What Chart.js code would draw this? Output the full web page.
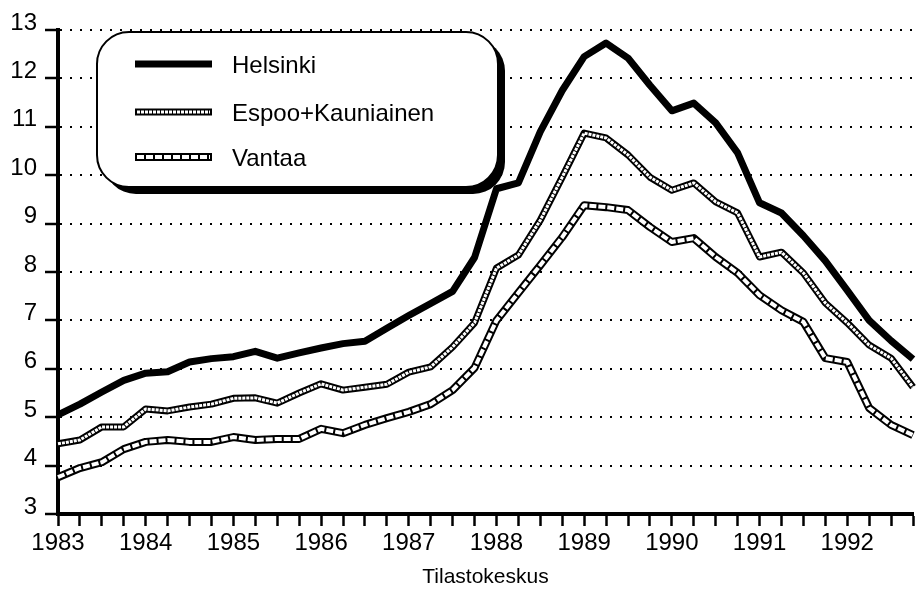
<!DOCTYPE html>
<html>
<head>
<meta charset="utf-8">
<script src="https://cdn.jsdelivr.net/npm/chart.js@4.4.1/dist/chart.umd.min.js"></script>
<style>
  html, body { margin: 0; padding: 0; background: #fff; }
  #wrap { width: 916px; height: 592px; }
</style>
</head>
<body>
<div id="wrap"><canvas id="chart"></canvas></div>
<script>
// vuodet ja neljännekset
const years = [1983, 1984, 1985, 1986, 1987, 1988, 1989, 1990, 1991, 1992];
const quarters = years.flatMap(y => [y + ' I', y + ' II', y + ' III', y + ' IV']);

// sarjat, neljännesvuosittain
const helsinki = [
  5.05, 5.27, 5.52, 5.76,
  5.91, 5.94, 6.14, 6.21,
  6.25, 6.36, 6.22, 6.33,
  6.43, 6.52, 6.57, 6.84,
  7.10, 7.35, 7.60, 8.30,
  9.72, 9.84, 10.90, 11.75,
  12.45, 12.73, 12.42, 11.86,
  11.33, 11.49, 11.08, 10.46,
  9.43, 9.22, 8.75, 8.23,
  7.62, 7.00, 6.58, 6.20
];
const espoo = [
  4.45, 4.53, 4.80, 4.80,
  5.17, 5.13, 5.21, 5.27,
  5.39, 5.40, 5.29, 5.50,
  5.69, 5.56, 5.62, 5.68,
  5.93, 6.04, 6.45, 6.95,
  8.08, 8.35, 9.07, 9.96,
  10.87, 10.77, 10.42, 9.96,
  9.69, 9.84, 9.45, 9.22,
  8.31, 8.41, 7.98, 7.36,
  6.95, 6.49, 6.22, 5.62
];
const vantaa = [
  3.76, 3.95, 4.07, 4.34,
  4.49, 4.53, 4.49, 4.49,
  4.59, 4.53, 4.55, 4.55,
  4.76, 4.67, 4.84, 4.98,
  5.11, 5.27, 5.56, 6.02,
  7.00, 7.57, 8.14, 8.72,
  9.38, 9.34, 9.28, 8.93,
  8.62, 8.70, 8.31, 7.98,
  7.52, 7.21, 6.97, 6.22,
  6.14, 5.19, 4.84, 4.63
];
const seriesNames = ['Helsinki', 'Espoo+Kauniainen', 'Vantaa'];

const fontFamily = '"Liberation Sans", Arial, Helvetica, sans-serif';

// viivatyylit: musta reuna + valkoinen sisäviiva
const lineStyles = [
  { outer: 7, inner: 0, dash: [] },
  { outer: 7, inner: 3, dash: [3, 1] },
  { outer: 8, inner: 4, dash: [7, 2] }
];

function strokeSample(ctx, style, x1, x2, y) {
  ctx.lineCap = 'butt';
  ctx.beginPath();
  ctx.moveTo(x1, y); ctx.lineTo(x2, y);
  ctx.strokeStyle = '#000';
  ctx.lineWidth = style.outer;
  ctx.setLineDash([]);
  ctx.stroke();
  if (style.inner) {
    ctx.beginPath();
    ctx.moveTo(x1 + 2, y); ctx.lineTo(x2 - 2, y);
    ctx.strokeStyle = '#fff';
    ctx.lineWidth = style.inner;
    ctx.setLineDash(style.dash);
    ctx.stroke();
  }
}

// pyöristetty selitelaatikko varjolla
const boxLegend = {
  id: 'boxLegend',
  beforeDatasetsDraw(chart) {
    const ctx = chart.ctx;
    ctx.save();
    ctx.fillStyle = '#000';
    ctx.beginPath();
    ctx.roundRect(104, 39, 401, 155, 32);
    ctx.fill();
    ctx.fillStyle = '#fff';
    ctx.strokeStyle = '#000';
    ctx.lineWidth = 2;
    ctx.beginPath();
    ctx.roundRect(97, 32, 401, 155, 32);
    ctx.fill();
    ctx.stroke();

    const rows = [64, 112, 157];
    ctx.font = '24px ' + fontFamily;
    ctx.textBaseline = 'middle';
    seriesNames.forEach((name, i) => {
      strokeSample(ctx, lineStyles[i], 135, 212, rows[i]);
      ctx.setLineDash([]);
      ctx.fillStyle = '#000';
      ctx.fillText(name, 232, rows[i] + 2);
    });
    ctx.restore();
  }
};

// order: pienempi piirretään päälle
function outerSet(label, data, style) {
  return {
    label: label,
    data: data,
    order: 2,
    borderColor: '#000',
    borderWidth: style.outer,
    pointRadius: 0,
    tension: 0,
    borderJoinStyle: 'round',
    fill: false
  };
}

function innerSet(label, data, style) {
  return {
    label: label,
    data: data,
    order: 1,
    borderColor: '#fff',
    borderWidth: style.inner,
    borderDash: style.dash,
    pointRadius: 0,
    tension: 0,
    borderJoinStyle: 'round',
    fill: false
  };
}

const ctx = document.getElementById('chart').getContext('2d');

new Chart(ctx, {
  type: 'line',
  data: {
    labels: quarters,
    datasets: [
      outerSet(seriesNames[2], vantaa, lineStyles[2]),
      innerSet(seriesNames[2], vantaa, lineStyles[2]),
      outerSet(seriesNames[1], espoo, lineStyles[1]),
      innerSet(seriesNames[1], espoo, lineStyles[1]),
      outerSet(seriesNames[0], helsinki, lineStyles[0])
    ]
  },
  options: {
    responsive: true,
    maintainAspectRatio: false,
    animation: false,
    layout: {
      padding: { top: 30, right: 0, bottom: 0, left: 0 }
    },
    plugins: {
      legend: { display: false },
      tooltip: { enabled: false }
    },
    scales: {
      x: {
        type: 'category',
        offset: false,
        afterFit(scale) { scale.height = 78; },
        grid: {
          display: true,
          drawOnChartArea: false,
          drawTicks: true,
          tickLength: 12,
          tickWidth: 2.5,
          tickColor: '#000'
        },
        border: { display: true, color: '#000', width: 4 },
        ticks: {
          autoSkip: false,
          maxRotation: 0,
          padding: 3,
          color: '#000',
          font: { size: 24, family: fontFamily },
          callback: (v, i) => (i % 4 === 0 ? String(years[i / 4]) : '')
        },
        title: {
          display: true,
          text: 'Tilastokeskus',
          color: '#000',
          font: { size: 21, family: fontFamily },
          padding: { top: 0, bottom: 2 }
        }
      },
      y: {
        min: 3,
        max: 13,
        afterFit(scale) { scale.width = 58; },
        grid: {
          display: true,
          drawOnChartArea: true,
          drawTicks: true,
          color: '#000',
          lineWidth: 2,
          tickLength: 13,
          tickWidth: 2.5,
          tickColor: '#000'
        },
        border: { display: true, color: '#000', width: 4, dash: [2, 8] },
        ticks: {
          stepSize: 1,
          padding: 8,
          labelOffset: -7,
          color: '#000',
          font: { size: 24, family: fontFamily }
        }
      }
    }
  },
  plugins: [boxLegend]
});
</script>
</body>
</html>
